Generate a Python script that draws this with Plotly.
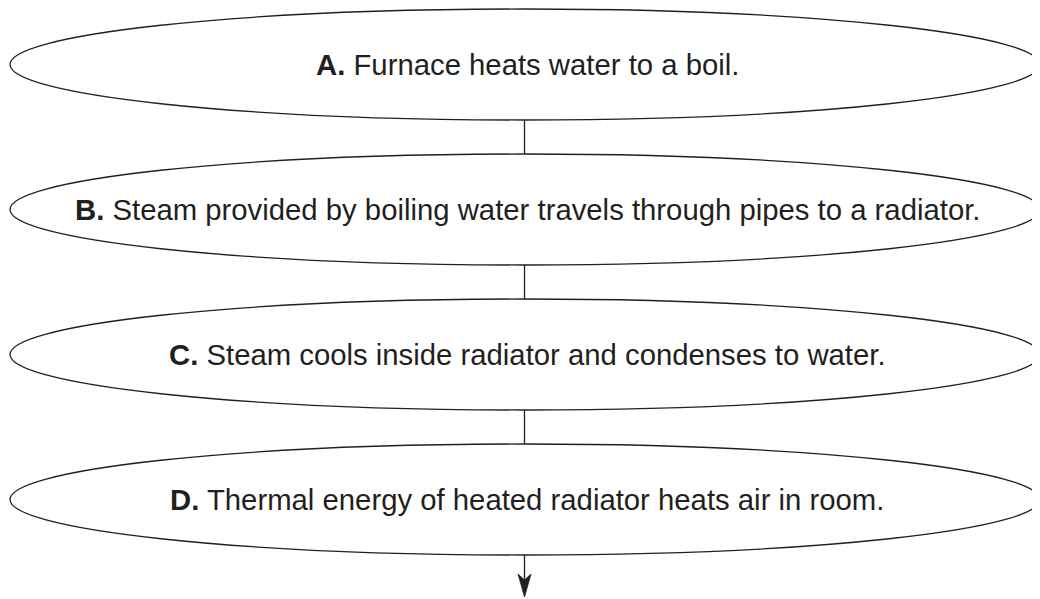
import plotly.graph_objects as go

step_labels = ["A.", "B.", "C.", "D."]
step_texts = [
    "Furnace heats water to a boil.",
    "Steam provided by boiling water travels through pipes to a radiator.",
    "Steam cools inside radiator and condenses to water.",
    "Thermal energy of heated radiator heats air in room.",
]

W, H = 1040, 599
PAGE_MARGIN = 8  # default body margin of the written page
INK = "#231f20"
cx, half_w = 525, 515
first_cy, spacing, half_h = 64.5, 145, 55.5
line_x = 524.5

fig = go.Figure()
shapes = []
annotations = []
for i, (lab, txt) in enumerate(zip(step_labels, step_texts)):
    cy = first_cy + i * spacing
    shapes.append(dict(type="circle", xref="x", yref="y",
                       x0=cx - half_w, x1=cx + half_w, y0=cy - half_h, y1=cy + half_h,
                       line=dict(color=INK, width=1.3), fillcolor="rgba(0,0,0,0)"))
    annotations.append(dict(x=cx + 2, y=cy, xref="x", yref="y", showarrow=False,
                            text=f"<b>{lab}</b> {txt}",
                            font=dict(family="Liberation Sans, Arial, sans-serif", size=29.3, color=INK)))
    if i < len(step_labels) - 1:
        shapes.append(dict(type="line", xref="x", yref="y",
                           x0=line_x, x1=line_x, y0=cy + half_h, y1=cy + spacing - half_h,
                           line=dict(color=INK, width=1.3)))

# final outgoing arrow
last_bottom = first_cy + (len(step_labels) - 1) * spacing + half_h
tip = last_bottom + 42
head_len, head_half, notch = 23, 6.5, 17
shapes.append(dict(type="line", xref="x", yref="y",
                   x0=line_x, x1=line_x, y0=last_bottom, y1=tip - notch,
                   line=dict(color=INK, width=1.3)))
shapes.append(dict(type="path", xref="x", yref="y",
                   path=(f"M {line_x} {tip} L {line_x - head_half} {tip - head_len} "
                         f"L {line_x} {tip - notch} L {line_x + head_half} {tip - head_len} Z"),
                   fillcolor=INK, line=dict(color=INK, width=0.8)))

fig.update_layout(
    width=W - PAGE_MARGIN, height=H - PAGE_MARGIN, margin=dict(l=0, r=0, t=0, b=0),
    paper_bgcolor="white", plot_bgcolor="white",
    xaxis=dict(range=[PAGE_MARGIN, W], visible=False, fixedrange=True),
    yaxis=dict(range=[H, PAGE_MARGIN], visible=False, fixedrange=True),
    shapes=shapes, annotations=annotations, showlegend=False,
)
fig.write_html("out.html")
